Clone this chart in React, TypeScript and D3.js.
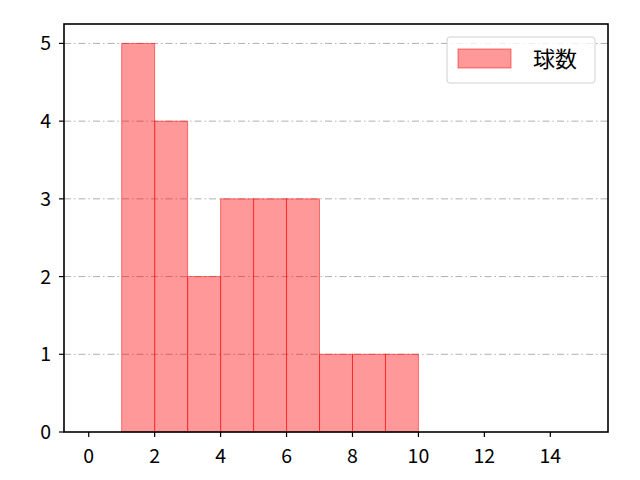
import React from 'react';
import * as d3 from 'd3';

const binEdges = [1, 2, 3, 4, 5, 6, 7, 8, 9, 10];
const counts = [5, 4, 2, 3, 3, 3, 1, 1, 1];
const xTicks = [0, 2, 4, 6, 8, 10, 12, 14];
const yTicks = [0, 1, 2, 3, 4, 5];
const legendLabel = '球数';

export default function App() {
  const width = 640;
  const height = 480;
  const margin = { left: 64, right: 32, top: 24, bottom: 48 };

  const x = d3.scaleLinear().domain([-0.75, 15.75]).range([margin.left, width - margin.right]);
  const y = d3.scaleLinear().domain([0, 5.25]).range([height - margin.bottom, margin.top]);

  const font = '"Noto Sans CJK JP", "Noto Sans", sans-serif';
  const bars = counts.map((c, i) => ({ x0: binEdges[i], x1: binEdges[i + 1], c }));

  return (
    <svg width={width} height={height} style={{ position: 'absolute', left: 0, top: 0 }}>
      <rect width={width} height={height} fill="white" />
      {/* grid */}
      {yTicks.filter(t => t > 0).map(t => (
        <line key={t} x1={margin.left} x2={width - margin.right} y1={y(t)} y2={y(t)}
          stroke="#b0b0b0" strokeWidth={1} strokeDasharray="7 3 1.5 3" />
      ))}
      {/* bars */}
      {bars.map((b, i) => (
        <rect key={i} x={x(b.x0)} y={y(b.c)} width={x(b.x1) - x(b.x0)} height={y(0) - y(b.c)}
          fill="rgba(255,0,0,0.4)" stroke="rgba(255,0,0,0.5)" strokeWidth={1} />
      ))}
      {/* axes frame */}
      <rect x={margin.left} y={margin.top} width={width - margin.left - margin.right}
        height={height - margin.top - margin.bottom} fill="none" stroke="#000" strokeWidth={1.6} />
      {xTicks.map(t => (
        <g key={t}>
          <line x1={x(t)} x2={x(t)} y1={y(0)} y2={y(0) + 5} stroke="#000" strokeWidth={1.2} />
          <text x={x(t)} y={463} textAnchor="middle" fontSize={19.5} fontFamily={font}>{t}</text>
        </g>
      ))}
      {yTicks.map(t => (
        <g key={t}>
          <line x1={margin.left - 5} x2={margin.left} y1={y(t)} y2={y(t)} stroke="#000" strokeWidth={1.2} />
          <text x={margin.left - 13} y={y(t) + 7} textAnchor="end" fontSize={19.5} fontFamily={font}>{t}</text>
        </g>
      ))}
      {/* legend */}
      <rect x={447} y={37} width={148} height={46} rx={3} fill="white" fillOpacity={0.8}
        stroke="#d0d0d0" strokeWidth={1} />
      <rect x={458} y={49} width={53} height={19} fill="rgba(255,0,0,0.4)" stroke="rgba(255,0,0,0.5)" />
      <text x={533} y={67} fontSize={22} fontFamily={font}>{legendLabel}</text>
    </svg>
  );
}
